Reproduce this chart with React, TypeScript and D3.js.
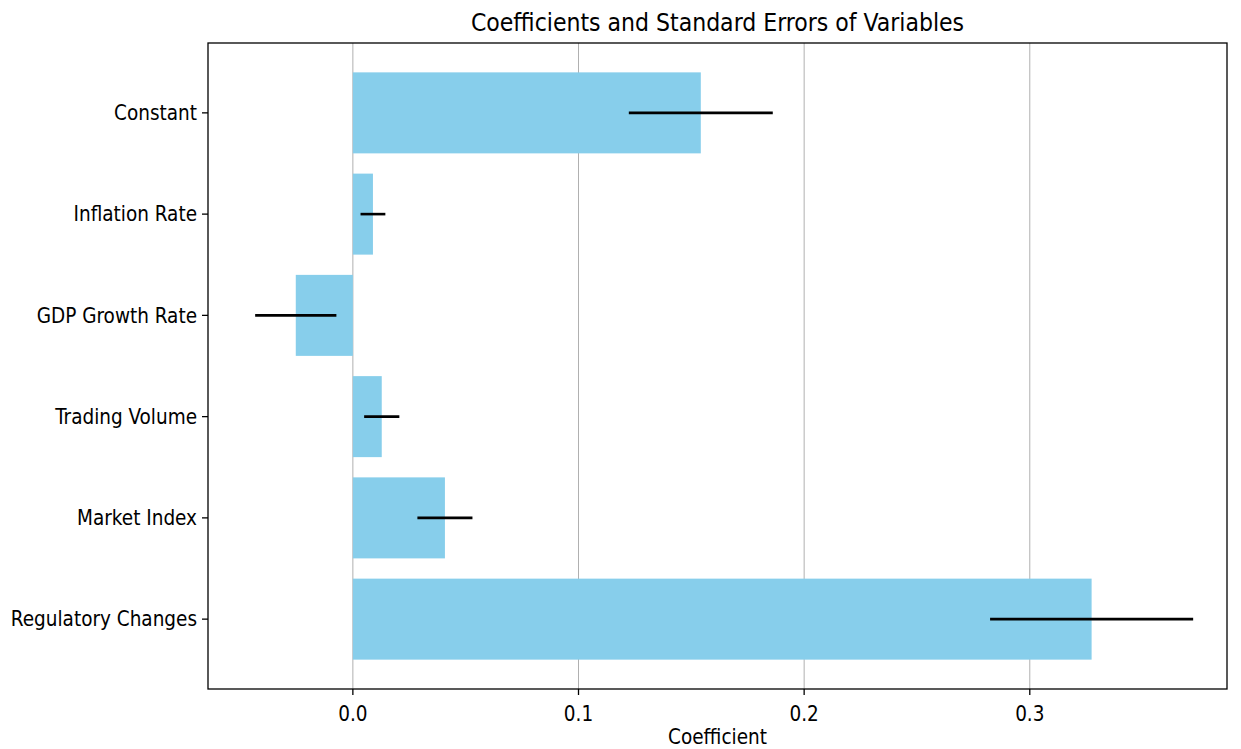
import * as d3 from 'd3';

const variables = ['Constant', 'Inflation Rate', 'GDP Growth Rate', 'Trading Volume', 'Market Index', 'Regulatory Changes'];
const coefficients = [0.1542, 0.0089, -0.0253, 0.0128, 0.0408, 0.3274];
const stdErrors = [0.0319, 0.0055, 0.018, 0.0078, 0.0122, 0.045];
const xTicks = [0.0, 0.1, 0.2, 0.3];

const W = 1241;
const H = 749;
const M = { top: 43, right: 14, bottom: 60, left: 208 };
const FONT = '"DejaVu Sans Condensed", "DejaVu Sans", sans-serif';

export default function App() {
  const iw = W - M.left - M.right;
  const ih = H - M.top - M.bottom;

  const x = d3.scaleLinear().domain([-0.0642, 0.3874]).range([0, iw]);
  const n = variables.length;
  const y = d3.scaleLinear().domain([-0.69, n - 1 + 0.69]).range([0, ih]);
  const barH = y(0.4) - y(-0.4);

  return (
    <svg width={W} height={H} style={{ display: 'block', position: 'absolute', left: 0, top: 0 }} fontFamily={FONT}>
      <rect width={W} height={H} fill="#fff" />
      <text x={M.left + iw / 2} y={31} textAnchor="middle" fontSize={24.5} fill="#000">
        Coefficients and Standard Errors of Variables
      </text>
      <g transform={`translate(${M.left},${M.top})`}>
        {xTicks.map(t => (
          <line key={'g' + t} x1={x(t)} x2={x(t)} y1={0} y2={ih} stroke="#b0b0b0" strokeWidth={1} />
        ))}
        {variables.map((v, i) => {
          const c = coefficients[i];
          return (
            <rect key={v} x={x(Math.min(0, c))} width={Math.abs(x(c) - x(0))}
              y={y(i) - barH / 2} height={barH} fill="#87ceeb" />
          );
        })}
        {variables.map((v, i) => (
          <line key={'e' + v} x1={x(coefficients[i] - stdErrors[i])} x2={x(coefficients[i] + stdErrors[i])}
            y1={y(i)} y2={y(i)} stroke="#000" strokeWidth={2.6} />
        ))}
        <rect x={0} y={0} width={iw} height={ih} fill="none" stroke="#000" strokeWidth={1.3} />
        {xTicks.map(t => (
          <g key={'t' + t} transform={`translate(${x(t)},${ih})`}>
            <line y2={6} stroke="#000" strokeWidth={1.3} />
            <text y={32} textAnchor="middle" fontSize={20.5} fill="#000">{t.toFixed(1)}</text>
          </g>
        ))}
        {variables.map((v, i) => (
          <g key={'y' + v} transform={`translate(0,${y(i)})`}>
            <line x2={-6} stroke="#000" strokeWidth={1.3} />
            <text x={-11} dy="0.35em" textAnchor="end" fontSize={20.5} fill="#000">{v}</text>
          </g>
        ))}
        <text x={iw / 2} y={ih + 55} textAnchor="middle" fontSize={20.5} fill="#000">Coefficient</text>
      </g>
    </svg>
  );
}
